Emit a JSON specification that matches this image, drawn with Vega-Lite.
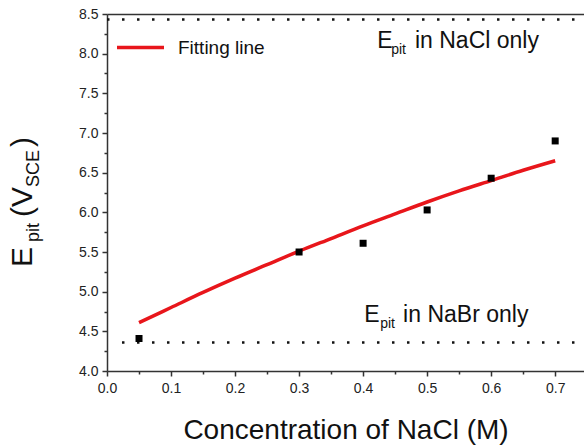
{
  "$schema": "https://vega.github.io/schema/vega-lite/v6.json",
  "width": 477,
  "height": 357,
  "autosize": "none",
  "padding": {"left": 107, "top": 14, "right": 0, "bottom": 76},
  "background": "white",
  "config": {
    "view": {"stroke": null},
    "font": "Liberation Sans",
    "axis": {"domainColor": "#333", "domainWidth": 1.5, "tickColor": "#333", "tickWidth": 1.5, "grid": false, "labelFont": "Liberation Sans", "labelColor": "#222", "labelFontSize": 14, "labelFlush": false, "labelOverlap": false}
  },
  "datasets": {
    "measured": [
      {"c": 0.05, "E": 4.41},
      {"c": 0.3, "E": 5.50},
      {"c": 0.4, "E": 5.61},
      {"c": 0.5, "E": 6.03},
      {"c": 0.6, "E": 6.43},
      {"c": 0.7, "E": 6.90}
    ],
    "fit": [
      {"c": 0.05, "E": 4.61}, {"c": 0.1, "E": 4.80}, {"c": 0.15, "E": 4.99}, {"c": 0.2, "E": 5.17},
      {"c": 0.25, "E": 5.34}, {"c": 0.3, "E": 5.51}, {"c": 0.35, "E": 5.67}, {"c": 0.4, "E": 5.83},
      {"c": 0.45, "E": 5.98}, {"c": 0.5, "E": 6.13}, {"c": 0.55, "E": 6.27}, {"c": 0.6, "E": 6.40},
      {"c": 0.65, "E": 6.53}, {"c": 0.7, "E": 6.65}
    ],
    "refs": [
      {"solution": "NaCl only", "E": 8.43, "from": 0.0, "to": 0.745},
      {"solution": "NaBr only", "E": 4.36, "from": 0.0234, "to": 0.745}
    ],
    "annotBig": [
      {"c": 0.4219, "E": 8.072, "t": "E"},
      {"c": 0.481, "E": 8.072, "t": "in NaCl only"},
      {"c": 0.4016, "E": 4.621, "t": "E"},
      {"c": 0.4625, "E": 4.621, "t": "in NaBr only"}
    ],
    "annotSub": [
      {"c": 0.4438, "E": 8.072, "t": "pit"},
      {"c": 0.4266, "E": 4.621, "t": "pit"}
    ],
    "ytitleBig": [
      {"c": -0.117, "E": 5.311, "t": "E"},
      {"c": -0.117, "E": 5.941, "t": "(V"},
      {"c": -0.117, "E": 6.824, "t": ")"}
    ],
    "ytitleSub": [
      {"c": -0.117, "E": 5.626, "t": "pit"},
      {"c": -0.117, "E": 6.319, "t": "SCE"}
    ]
  },
  "resolve": {"axis": {"x": "independent", "y": "independent"}},
  "layer": [
    {
      "data": {"name": "refs"},
      "mark": {"type": "rule", "color": "#111", "strokeWidth": 2.5, "strokeDash": [2.5, 12.5], "strokeCap": "butt"},
      "encoding": {
        "x": {"field": "from", "type": "quantitative", "scale": {"domain": [0, 0.745], "nice": false, "zero": false},
              "axis": {"orient": "top", "title": null, "labels": false, "ticks": false, "domain": true}},
        "x2": {"field": "to"},
        "y": {"field": "E", "type": "quantitative", "scale": {"domain": [4, 8.5], "nice": false, "zero": false}, "axis": null}
      }
    },
    {
      "data": {"name": "fit"},
      "mark": {"type": "line", "strokeWidth": 3.5, "interpolate": "monotone"},
      "encoding": {
        "x": {"field": "c", "type": "quantitative", "scale": {"domain": [0, 0.745], "nice": false, "zero": false},
              "axis": {"orient": "bottom", "values": [0.05, 0.15, 0.25, 0.35, 0.45, 0.55, 0.65], "labels": false, "domain": false, "tickSize": 3, "title": null}},
        "y": {"field": "E", "type": "quantitative", "scale": {"domain": [4, 8.5], "nice": false, "zero": false},
              "axis": {"orient": "left", "values": [4.25, 4.75, 5.25, 5.75, 6.25, 6.75, 7.25, 7.75, 8.25], "labels": false, "domain": false, "tickSize": 3, "title": null}},
        "color": {"datum": "Fitting line", "type": "nominal", "scale": {"range": ["#e8161b"]},
                  "legend": {"orient": "none", "legendX": 8, "legendY": 8, "title": null, "symbolType": "stroke", "symbolSize": 2209, "symbolStrokeWidth": 3.5, "labelFontSize": 19, "labelFont": "Liberation Sans", "labelColor": "#111", "labelOffset": 12, "padding": 0}}
      }
    },
    {
      "data": {"name": "measured"},
      "mark": {"type": "square", "filled": true, "color": "#000", "size": 49, "opacity": 1},
      "encoding": {
        "x": {"field": "c", "type": "quantitative", "scale": {"domain": [0, 0.745], "nice": false, "zero": false},
              "axis": {"orient": "bottom", "values": [0, 0.1, 0.2, 0.3, 0.4, 0.5, 0.6, 0.7], "format": ".1f", "tickSize": 5, "labelPadding": 5,
                       "title": "Concentration of NaCl (M)", "titleFont": "Liberation Sans", "titleFontSize": 28, "titleFontWeight": "normal", "titleColor": "#111", "titlePadding": 21}},
        "y": {"field": "E", "type": "quantitative", "scale": {"domain": [4, 8.5], "nice": false, "zero": false},
              "axis": {"orient": "left", "values": [4, 4.5, 5, 5.5, 6, 6.5, 7, 7.5, 8, 8.5], "format": ".1f", "tickSize": 5, "labelPadding": 4, "title": null}}
      }
    },
    {
      "data": {"name": "annotBig"},
      "mark": {"type": "text", "align": "left", "baseline": "alphabetic", "fontSize": 23, "color": "#111"},
      "encoding": {
        "x": {"field": "c", "type": "quantitative", "axis": null},
        "y": {"field": "E", "type": "quantitative", "axis": null},
        "text": {"field": "t"}
      }
    },
    {
      "data": {"name": "annotSub"},
      "mark": {"type": "text", "align": "left", "baseline": "alphabetic", "fontSize": 14, "dy": 6, "color": "#111"},
      "encoding": {
        "x": {"field": "c", "type": "quantitative", "axis": null},
        "y": {"field": "E", "type": "quantitative", "axis": null},
        "text": {"field": "t"}
      }
    },
    {
      "data": {"name": "ytitleBig"},
      "mark": {"type": "text", "align": "left", "baseline": "alphabetic", "angle": 270, "fontSize": 30, "color": "#111"},
      "encoding": {
        "x": {"field": "c", "type": "quantitative", "axis": null},
        "y": {"field": "E", "type": "quantitative", "axis": null},
        "text": {"field": "t"}
      }
    },
    {
      "data": {"name": "ytitleSub"},
      "mark": {"type": "text", "align": "left", "baseline": "alphabetic", "angle": 270, "fontSize": 18, "dy": 7, "color": "#111"},
      "encoding": {
        "x": {"field": "c", "type": "quantitative", "axis": null},
        "y": {"field": "E", "type": "quantitative", "axis": null},
        "text": {"field": "t"}
      }
    }
  ]
}
